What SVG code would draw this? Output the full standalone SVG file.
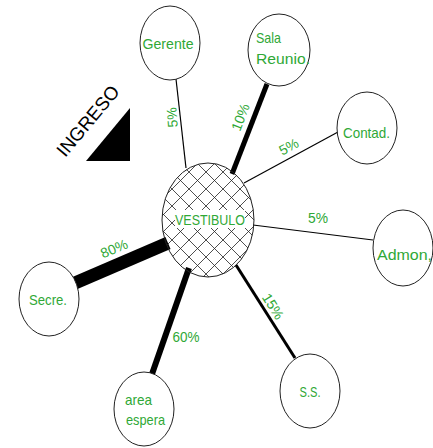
<svg xmlns="http://www.w3.org/2000/svg" width="433" height="448" viewBox="0 0 433 448">
<defs>
<pattern id="hatch" patternUnits="userSpaceOnUse" x="2" y="2" width="17" height="17">
<path d="M0,0 L17,17 M17,0 L0,17" stroke="#222" stroke-width="0.8" fill="none"/>
</pattern>
</defs>
<style>
.node ellipse{fill:#fff;stroke:#222;stroke-width:1}
.lbl{font-family:"Liberation Sans","DejaVu Sans",sans-serif;font-size:15px;fill:#2fa836}
.pct{font-family:"Liberation Sans","DejaVu Sans",sans-serif;font-size:14px;fill:#2fa836}
.conn line{stroke:#000;stroke-linecap:butt}
</style>
<rect width="433" height="448" fill="#fff"/>
<g id="connectors" class="conn">
<line x1="176" y1="79" x2="186" y2="168" stroke-width="1.2"/>
<line x1="267" y1="84" x2="232" y2="174" stroke-width="5"/>
<line x1="338" y1="132" x2="244" y2="183" stroke-width="1.2"/>
<line x1="373" y1="240" x2="253" y2="225" stroke-width="1.2"/>
<line x1="295" y1="358" x2="236" y2="265" stroke-width="3"/>
<line x1="75" y1="283" x2="168" y2="243" stroke-width="13"/>
<line x1="152" y1="374" x2="189" y2="268" stroke-width="6"/>
</g>
<g id="labels">
<text class="pct" transform="translate(177,117) rotate(-95)" text-anchor="middle" textLength="20" lengthAdjust="spacingAndGlyphs">5%</text>
<text class="pct" transform="translate(245,119) rotate(-69)" text-anchor="middle" textLength="28" lengthAdjust="spacingAndGlyphs">10%</text>
<text class="pct" transform="translate(291,151) rotate(-28)" text-anchor="middle" textLength="20" lengthAdjust="spacingAndGlyphs">5%</text>
<text class="pct" x="318" y="223" text-anchor="middle" textLength="20" lengthAdjust="spacingAndGlyphs">5%</text>
<text class="pct" transform="translate(116,253) rotate(-23)" text-anchor="middle" textLength="28" lengthAdjust="spacingAndGlyphs">80%</text>
<text class="pct" x="186" y="342" text-anchor="middle" textLength="27" lengthAdjust="spacingAndGlyphs">60%</text>
<text class="pct" transform="translate(269,309) rotate(58)" text-anchor="middle" textLength="28" lengthAdjust="spacingAndGlyphs">15%</text>
</g>
<g id="ingreso">
<text transform="translate(93,125) rotate(-50)" text-anchor="middle" font-family="Liberation Sans, sans-serif" font-size="19" textLength="86" lengthAdjust="spacingAndGlyphs" fill="#000">INGRESO</text>
<polygon points="130,108 130,161 86,161" fill="#000"/>
</g>
<g id="vestibulo" class="node">
<ellipse cx="208" cy="220" rx="46" ry="57" style="fill:url(#hatch)"/>
<rect x="175" y="210" width="70" height="18" fill="#fff"/>
<text class="lbl" x="210" y="225" text-anchor="middle" font-size="16" textLength="70" lengthAdjust="spacingAndGlyphs">VESTIBULO</text>
</g>
<g id="gerente" class="node">
<ellipse cx="170" cy="43" rx="30" ry="37"/>
<text class="lbl" x="168" y="49" text-anchor="middle" textLength="51" lengthAdjust="spacingAndGlyphs">Gerente</text>
</g>
<g id="sala" class="node">
<ellipse cx="279" cy="50" rx="31" ry="36"/>
<text class="lbl" x="256" y="43" textLength="25" lengthAdjust="spacingAndGlyphs">Sala</text>
<text class="lbl" x="256" y="64" textLength="54" lengthAdjust="spacingAndGlyphs">Reunio.</text>
</g>
<g id="contad" class="node">
<ellipse cx="367" cy="128" rx="30" ry="36"/>
<text class="lbl" x="343" y="138" textLength="47" lengthAdjust="spacingAndGlyphs">Contad.</text>
</g>
<g id="admon" class="node">
<ellipse cx="403" cy="248" rx="30" ry="38"/>
<text class="lbl" x="377" y="260" textLength="55" lengthAdjust="spacingAndGlyphs">Admon,</text>
</g>
<g id="ss" class="node">
<ellipse cx="310" cy="391" rx="30" ry="37"/>
<text class="lbl" x="310" y="397" text-anchor="middle" textLength="21" lengthAdjust="spacingAndGlyphs">S.S.</text>
</g>
<g id="secre" class="node">
<ellipse cx="49" cy="299" rx="30" ry="37"/>
<text class="lbl" x="48" y="305" text-anchor="middle" textLength="38" lengthAdjust="spacingAndGlyphs">Secre.</text>
</g>
<g id="area" class="node">
<ellipse cx="144" cy="409" rx="30" ry="37"/>
<text class="lbl" x="125" y="405" textLength="27" lengthAdjust="spacingAndGlyphs">area</text>
<text class="lbl" x="126" y="425" textLength="39" lengthAdjust="spacingAndGlyphs">espera</text>
</g>
</svg>
